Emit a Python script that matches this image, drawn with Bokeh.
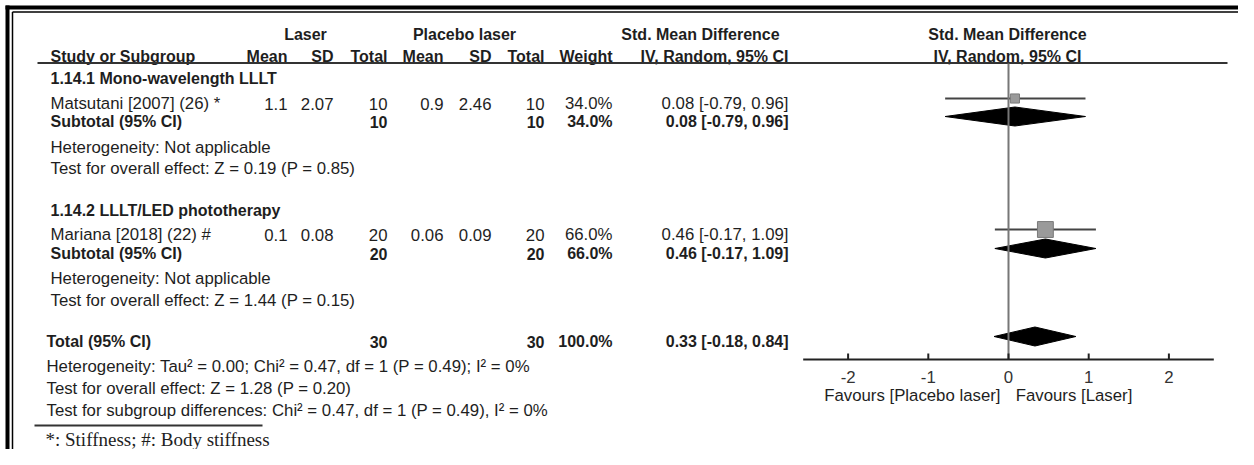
from bokeh.plotting import figure
from bokeh.models import Range1d, ColumnDataSource
from bokeh.embed import file_html
from bokeh.resources import INLINE
from bokeh.core.properties import value

# ---------------- data ----------------
groups = ["1.14.1 Mono-wavelength LLLT", "1.14.2 LLLT/LED phototherapy"]
studies = ["Matsutani [2007] (26) *", "Mariana [2018] (22) #"]
laser_mean = [1.1, 0.1]
laser_sd = [2.07, 0.08]
laser_total = [10, 20]
placebo_mean = [0.9, 0.06]
placebo_sd = [2.46, 0.09]
placebo_total = [10, 20]
weight = [34.0, 66.0]
smd = [0.08, 0.46]
ci_low = [-0.79, -0.17]
ci_high = [0.96, 1.09]

sub_smd = [0.08, 0.46]
sub_low = [-0.79, -0.17]
sub_high = [0.96, 1.09]
sub_laser_total = [10, 20]
sub_placebo_total = [10, 20]
sub_weight = [34.0, 66.0]
sub_het = ["Heterogeneity: Not applicable", "Heterogeneity: Not applicable"]
sub_test = ["Test for overall effect: Z = 0.19 (P = 0.85)",
            "Test for overall effect: Z = 1.44 (P = 0.15)"]

total_smd = [0.33]
total_low = [-0.18]
total_high = [0.84]
total_laser = [30]
total_placebo = [30]
total_weight = [100.0]
total_notes = ["Heterogeneity: Tau\u00b2 = 0.00; Chi\u00b2 = 0.47, df = 1 (P = 0.49); I\u00b2 = 0%",
               "Test for overall effect: Z = 1.28 (P = 0.20)",
               "Test for subgroup differences: Chi\u00b2 = 0.47, df = 1 (P = 0.49), I\u00b2 = 0%"]

axis_ticks = [-2, -1, 0, 1, 2]
axis_labels = ["-2", "-1", "0", "1", "2"]
favours = ["Favours [Placebo laser]", "Favours [Laser]"]
footnote = "*: Stiffness; #: Body stiffness"

# ---------------- layout ----------------
W, H = 1238, 449
ZERO_PX, UNIT_PX = 1008, 80.2
FS = "16.8px"
FSB = "16px"
FONT = "Liberation Sans"
TXT = "#1e1e1e"

p = figure(width=W, height=H, x_range=Range1d(0, W), y_range=Range1d(H, 0),
           x_axis_type=None, y_axis_type=None, toolbar_location=None,
           output_backend="svg", min_border=0, outline_line_color=None)
p.min_border_left = p.min_border_right = p.min_border_top = p.min_border_bottom = 0
p.xgrid.visible = False
p.ygrid.visible = False
p.extra_x_ranges = {"smd": Range1d(-ZERO_PX / UNIT_PX, (W - ZERO_PX) / UNIT_PX)}


def txt(x, y, s, align="left", bold=False, size=None, font=FONT, color=TXT, rn="default"):
    if size is None:
        size = FSB if bold else FS
    p.text(x=[x], y=[y], text=[s], text_align=align, text_baseline="middle",
           text_font=value(font), text_font_size=size, text_color=color,
           text_font_style="bold" if bold else "normal", x_range_name=rn)


# frame (double rule)
p.segment(x0=[5, 12], y0=[7, 11.5], x1=[W, W], y1=[7, 11.5],
          line_color="black", line_width=[4, 1.5])
p.segment(x0=[7, 12], y0=[5, 11.5], x1=[7, 12], y1=[H, H],
          line_color="black", line_width=[4, 1.5])

# column positions (right edges)
C_LM, C_LSD, C_LT, C_PM, C_PSD, C_PT, C_W, C_CI = 287, 333, 387, 443, 491, 544, 612, 788
LEFT = 50
FOREST_C = 1007

# headers
txt(305, 34, "Laser", "center", True)
txt(464, 34, "Placebo laser", "center", True)
txt(700, 34, "Std. Mean Difference", "center", True)
txt(FOREST_C, 34, "Std. Mean Difference", "center", True)
txt(LEFT, 56, "Study or Subgroup", "left", True)
for cx, lab in zip([C_LM, C_LSD, C_LT, C_PM, C_PSD, C_PT, C_W, C_CI],
                   ["Mean", "SD", "Total", "Mean", "SD", "Total", "Weight", "IV, Random, 95% CI"]):
    txt(cx, 56, lab, "right", True)
txt(FOREST_C, 56, "IV, Random, 95% CI", "center", True)
p.segment(x0=[37], y0=[62.5], x1=[1227], y1=[62.5], line_color="#333333", line_width=2)

# rows per subgroup
group_y = [78, 210]
study_y = [103, 234]
sub_y = [121, 253]
het_y = [147, 278]
test_y = [168, 300]
MARK_DY = -5   # forest marks sit slightly higher in the scan


def ci_str(m, lo, hi):
    return f"{m:.2f} [{lo:.2f}, {hi:.2f}]"


for i in range(2):
    txt(LEFT, group_y[i], groups[i], "left", True)
    y = study_y[i]
    txt(LEFT, y, studies[i])
    txt(C_LM, y, str(laser_mean[i]), "right")
    txt(C_LSD, y, str(laser_sd[i]), "right")
    txt(C_LT, y, str(laser_total[i]), "right")
    txt(C_PM, y, str(placebo_mean[i]), "right")
    txt(C_PSD, y, str(placebo_sd[i]), "right")
    txt(C_PT, y, str(placebo_total[i]), "right")
    txt(C_W, y, f"{weight[i]:.1f}%", "right")
    txt(C_CI, y, ci_str(smd[i], ci_low[i], ci_high[i]), "right")
    ys = sub_y[i]
    txt(LEFT, ys, "Subtotal (95% CI)", "left", True)
    txt(C_LT, ys, str(sub_laser_total[i]), "right", True)
    txt(C_PT, ys, str(sub_placebo_total[i]), "right", True)
    txt(C_W, ys, f"{sub_weight[i]:.1f}%", "right", True)
    txt(C_CI, ys, ci_str(sub_smd[i], sub_low[i], sub_high[i]), "right", True)
    txt(LEFT, het_y[i], sub_het[i])
    txt(LEFT, test_y[i], sub_test[i])

# study CI lines and squares
src = ColumnDataSource(dict(smd=smd, lo=ci_low, hi=ci_high,
                            y=[v + MARK_DY for v in study_y],
                            size=[2 + w * 0.21 for w in weight]))
p.segment(x0="lo", y0="y", x1="hi", y1="y", source=src, line_color="#444444",
          line_width=2, x_range_name="smd")
p.scatter(x="smd", y="y", size="size", marker="square", source=src,
          fill_color="#9a9a9a", line_color="#7a7a7a", line_width=1, x_range_name="smd")

# subtotal diamonds
DH = 9.5
for i in range(2):
    yc = sub_y[i] + MARK_DY
    p.patch(x=[sub_low[i], sub_smd[i], sub_high[i], sub_smd[i]],
            y=[yc, yc - DH, yc, yc + DH], fill_color="black", line_color="black",
            x_range_name="smd")

# total
TY = 341
LEFT2 = 46
txt(LEFT2, TY, "Total (95% CI)", "left", True)
txt(C_LT, TY, str(total_laser[0]), "right", True)
txt(C_PT, TY, str(total_placebo[0]), "right", True)
txt(C_W, TY, f"{total_weight[0]:.1f}%", "right", True)
txt(C_CI, TY, ci_str(total_smd[0], total_low[0], total_high[0]), "right", True)
yc = TY + MARK_DY
p.patch(x=[total_low[0], total_smd[0], total_high[0], total_smd[0]],
        y=[yc, yc - DH, yc, yc + DH], fill_color="black", line_color="black",
        x_range_name="smd")
for yy, note in zip([366, 388, 410], total_notes):
    txt(LEFT2, yy, note)

# zero line
AXIS_Y = 359
p.segment(x0=[0], y0=[63], x1=[0], y1=[AXIS_Y], line_color="#777777", line_width=2,
          x_range_name="smd")

# forest axis
p.segment(x0=[-2.56], y0=[AXIS_Y], x1=[2.56], y1=[AXIS_Y], line_color="#222222",
          line_width=2, x_range_name="smd")
p.segment(x0=axis_ticks, y0=[AXIS_Y - 6] * 5, x1=axis_ticks, y1=[AXIS_Y] * 5,
          line_color="#222222", line_width=2, x_range_name="smd")
p.text(x=axis_ticks, y=[376] * 5, text=axis_labels, text_align="center",
       text_baseline="middle", text_font=value(FONT), text_font_size=FS,
       text_color="#333333", x_range_name="smd")
txt(-0.1, 395, favours[0], "right", rn="smd")
txt(0.09, 395, favours[1], "left", rn="smd")

# footnote
p.segment(x0=[34], y0=[425], x1=[262], y1=[425], line_color="#333333", line_width=2)
txt(45, 439, footnote, "left", size="19px", font="Liberation Serif")

open("out.html", "w").write(file_html(p, INLINE))
